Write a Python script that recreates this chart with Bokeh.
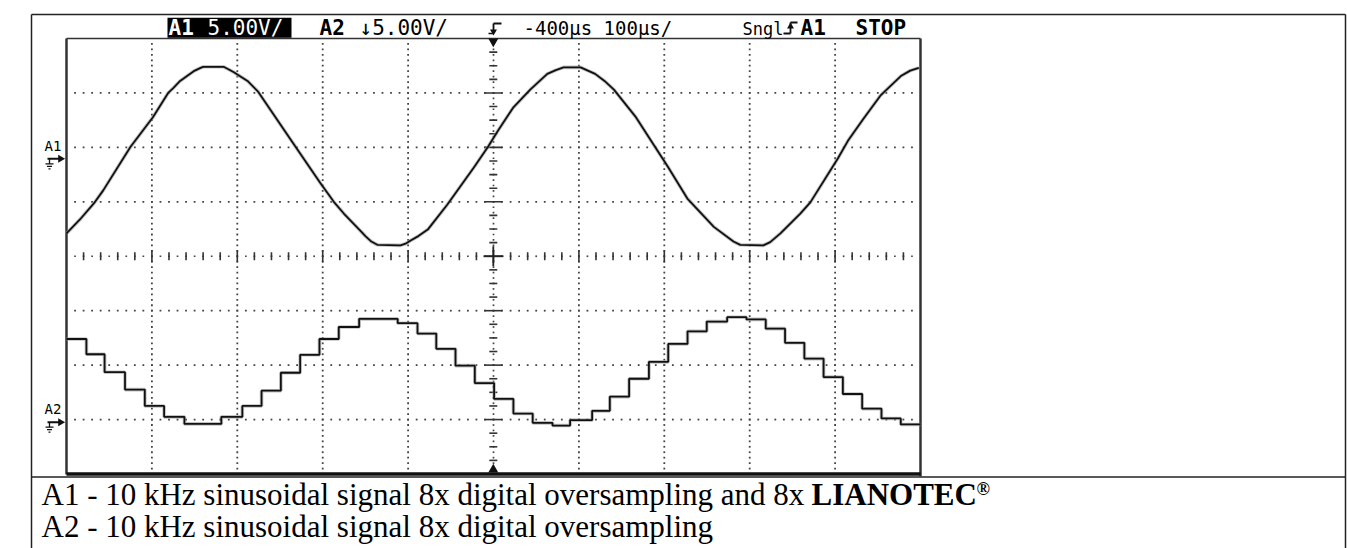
import numpy as np
from bokeh.plotting import figure
from bokeh.models import Range1d, Label
from bokeh.embed import file_html
from bokeh.resources import INLINE

# ---------------- data (screen divisions: x 0..10, y -4..4) ----------------
a1_t = [0.00, 0.16, 0.32, 0.43, 0.75, 1.01, 1.19, 1.25, 1.33, 1.42, 1.49, 1.57,
        1.60, 1.84, 1.89, 1.96, 2.06, 2.12, 2.24, 2.66, 2.97, 3.13, 3.25, 3.36,
        3.44, 3.50, 3.57, 3.64, 3.91, 3.97, 4.03, 4.12, 4.23, 4.46, 4.77, 4.94,
        5.05, 5.23, 5.43, 5.63, 5.73, 5.82, 6.02, 6.19, 6.30, 6.41, 6.66, 6.87,
        7.04, 7.27, 7.58, 7.81, 7.89, 8.16, 8.24, 8.36, 8.59, 8.71, 9.03, 9.15,
        9.33, 9.53, 9.77, 9.88, 9.98]
a1_v = [0.42, 0.68, 0.97, 1.21, 2.01, 2.55, 3.00, 3.09, 3.22, 3.32, 3.40, 3.46,
        3.48, 3.48, 3.44, 3.38, 3.28, 3.22, 3.03, 2.06, 1.35, 1.00, 0.78, 0.60,
        0.47, 0.37, 0.27, 0.21, 0.20, 0.23, 0.29, 0.37, 0.49, 0.95, 1.63, 2.02,
        2.30, 2.73, 3.06, 3.35, 3.42, 3.47, 3.47, 3.35, 3.22, 3.06, 2.57, 2.06,
        1.65, 1.06, 0.54, 0.27, 0.21, 0.20, 0.26, 0.42, 0.78, 0.99, 1.79, 2.12,
        2.52, 2.95, 3.31, 3.41, 3.46]

a2_edges = [0.0, 0.233, 0.446, 0.685, 0.917, 1.143, 1.381, 1.813, 2.059, 2.284,
            2.510, 2.736, 2.962, 3.188, 3.427, 3.878, 4.110, 4.330, 4.555, 4.781,
            5.007, 5.233, 5.459, 5.691, 5.897, 6.155, 6.362, 6.588, 6.820, 7.046,
            7.272, 7.497, 7.736, 7.962, 8.188, 8.414, 8.640, 8.865, 9.091, 9.317,
            9.543, 9.769, 10.0]
a2_levels = [-1.52, -1.80, -2.13, -2.45, -2.75, -2.95, -3.08, -2.95, -2.75, -2.47,
             -2.14, -1.81, -1.52, -1.30, -1.15, -1.23, -1.42, -1.70, -2.01, -2.33,
             -2.62, -2.89, -3.06, -3.11, -3.01, -2.84, -2.58, -2.25, -1.94, -1.61,
             -1.38, -1.20, -1.12, -1.16, -1.33, -1.59, -1.88, -2.22, -2.53, -2.80,
             -2.98, -3.09]

header_a1 = ["A1", "5.00V/"]
header_a2 = ["A2", "\u21935.00V/"]
header_time = "-400\u00b5s 100\u00b5s/"
header_mode = ["Sngl", "A1", "STOP"]
caption_1 = "A1 - 10 kHz sinusoidal signal 8x digital oversampling and 8x "
caption_1b = "LIANOTEC"
caption_2 = "A2 - 10 kHz sinusoidal signal 8x digital oversampling"

# ---------------- geometry (pixels -> divisions) ----------------
W, H = 1347, 548
SX0, SX1 = 66.0, 920.0
ST, SB = 38.0, 473.5
DX = (SX1 - SX0) / 10.0
DY = (SB - ST) / 8.0
CY = (ST + SB) / 2.0

def X(px):
    return (px - SX0) / DX

def Y(py):
    return (CY - py) / DY

p = figure(width=W, height=H, x_range=Range1d(X(0), X(W)), y_range=Range1d(Y(H), Y(0)),
           output_backend="svg", toolbar_location=None, min_border=0,
           x_axis_location=None, y_axis_location=None)
p.grid.visible = False
p.outline_line_color = None
p.background_fill_color = "white"
p.border_fill_color = "white"

def seg(x0, y0, x1, y1, color="#222222", width=1.5):
    p.segment(x0=[X(x0)], y0=[Y(y0)], x1=[X(x1)], y1=[Y(y1)], line_color=color, line_width=width)

# outer table
seg(31, 14, 1345, 14, width=1.5)
seg(31, 14, 31, 548, width=1.5)
seg(1345, 14, 1345, 548, width=1.5)
seg(31, 476.5, 1345, 476.5, width=1.5)

# screen frame
seg(66, 38, 920, 38, color="#333333", width=1.5)
seg(66, 38, 66, 474, color="#333333", width=2.5)
seg(920, 38, 920, 476, color="#333333", width=2.5)
seg(66, 473.5, 920, 473.5, color="#111111", width=3.5)

# grid dots
gx, gy = [], []
for i in range(1, 10):
    if i == 5:
        continue
    for k in range(1, 80):
        gx.append(i); gy.append(-4 + k * 0.1)
for j in range(-3, 4):
    if j == 0:
        continue
    for k in range(1, 100):
        gx.append(k * 0.1); gy.append(j)
p.scatter(gx, gy, marker="square", size=1.8, fill_color="#444444", line_color=None)

# center horizontal axis
cx = [k * 0.1 for k in range(1, 100)]
p.scatter(cx, [0] * len(cx), marker="square", size=1.7, fill_color="#444444", line_color=None)
tx0, ty0, tx1, ty1 = [], [], [], []
for k in range(1, 50):
    x = k * 0.2
    h = 6 if abs(x - round(x)) < 1e-6 else 4
    tx0.append(x); tx1.append(x); ty0.append(Y(CY - h)); ty1.append(Y(CY + h))
p.segment(tx0, ty0, tx1, ty1, line_color="#333333", line_width=1.6)

# center vertical axis
cyv = [-4 + k * 0.1 for k in range(1, 80)]
p.scatter([5] * len(cyv), cyv, marker="square", size=1.7, fill_color="#444444", line_color=None)
tx0, ty0, tx1, ty1 = [], [], [], []
for k in range(1, 32):
    y = -4 + k * 0.25
    w = 9 if abs(y - round(y)) < 1e-6 else 4
    tx0.append(X(492.8 - w)); tx1.append(X(492.8 + w)); ty0.append(y); ty1.append(y)
p.segment(tx0, ty0, tx1, ty1, line_color="#333333", line_width=1.6)
seg(483, CY, 503, CY, color="#222222", width=1.8)
seg(492.8, CY - 10, 492.8, CY + 10, color="#222222", width=1.8)

# trigger position markers
p.scatter([X(492.8)], [Y(41)], marker="inverted_triangle", size=10, fill_color="#111111", line_color=None)
p.scatter([X(492.8)], [Y(469)], marker="triangle", size=10, fill_color="#111111", line_color=None)

# traces
p.line(a1_t, a1_v, line_color="#9a9a9a", line_width=3.6, line_alpha=0.6, line_join="round")
p.line(a1_t, a1_v, line_color="#111111", line_width=1.8, line_join="round")
xs = list(a2_edges)
ys = list(a2_levels) + [a2_levels[-1]]
p.step(xs, ys, mode="after", line_color="#9a9a9a", line_width=3.6, line_alpha=0.6)
p.step(xs, ys, mode="after", line_color="#111111", line_width=1.8)

# ---------------- texts ----------------
MONO = "DejaVu Sans Mono"
p.quad(left=[X(167)], right=[X(291)], top=[Y(17.3)], bottom=[Y(37.3)], fill_color="black", line_color=None)

def txt(s, px, base_py, size=21, font=MONO, style="normal", color="black"):
    # base_py: desired baseline in pixels (compensate renderer baseline offset)
    py = base_py - 0.38 * size
    p.add_layout(Label(x=X(px), y=Y(py), text=s, text_font=font, text_font_size=f"{size}px",
                       text_font_style=style, text_color=color, text_align="left",
                       text_baseline="alphabetic"))

txt(header_a1[0], 168, 35, style="bold", color="white")
txt(header_a1[1], 207, 35, color="white")
txt(header_a2[0], 319, 35, style="bold")
txt(header_a2[1], 359, 35)
txt(header_time, 523, 35, size=19)
txt(header_mode[0], 742, 35, size=17)
txt(header_mode[1], 800, 35, style="bold")
txt(header_mode[2], 855, 35, style="bold")

# trigger level symbol
seg(493, 23, 501, 23, color="#111111", width=1.8)
seg(493, 23, 493, 31, color="#111111", width=1.8)
seg(488, 33, 493, 33, color="#111111", width=1.5)
p.scatter([X(493)], [Y(31)], marker="inverted_triangle", size=7, fill_color="#111111", line_color=None)
# trigger edge symbol
seg(783, 33, 790, 33, color="#111111", width=1.8)
seg(790, 33, 790, 22, color="#111111", width=1.8)
seg(790, 22, 797, 22, color="#111111", width=1.8)
p.scatter([X(790)], [Y(26)], marker="triangle", size=7, fill_color="#111111", line_color=None)

# channel ground markers
for lab, ly, gy0 in [("A1", 151, 158.3), ("A2", 414, 421.7)]:
    txt(lab, 44, ly, size=14)
    seg(47, gy0, 59, gy0, color="#111111", width=2)
    p.scatter([X(60)], [Y(gy0)], marker="triangle", angle=-np.pi / 2, size=8,
              fill_color="#111111", line_color=None)
    seg(49, gy0, 49, gy0 + 5, color="#111111", width=1.3)
    seg(45, gy0 + 5, 53, gy0 + 5, color="#111111", width=1.3)
    seg(46.5, gy0 + 7.5, 51.5, gy0 + 7.5, color="#111111", width=1.3)
    seg(48, gy0 + 10, 50, gy0 + 10, color="#111111", width=1.3)

# caption
SERIF = "Liberation Serif"
txt(caption_1, 41, 506, size=31, font=SERIF)
txt(caption_1b, 811, 506, size=31, font=SERIF, style="bold")
txt("\u00ae", 976, 495, size=18, font=SERIF, style="bold")
txt(caption_2, 41, 538, size=31, font=SERIF)

open("out.html", "w").write(file_html(p, INLINE))
